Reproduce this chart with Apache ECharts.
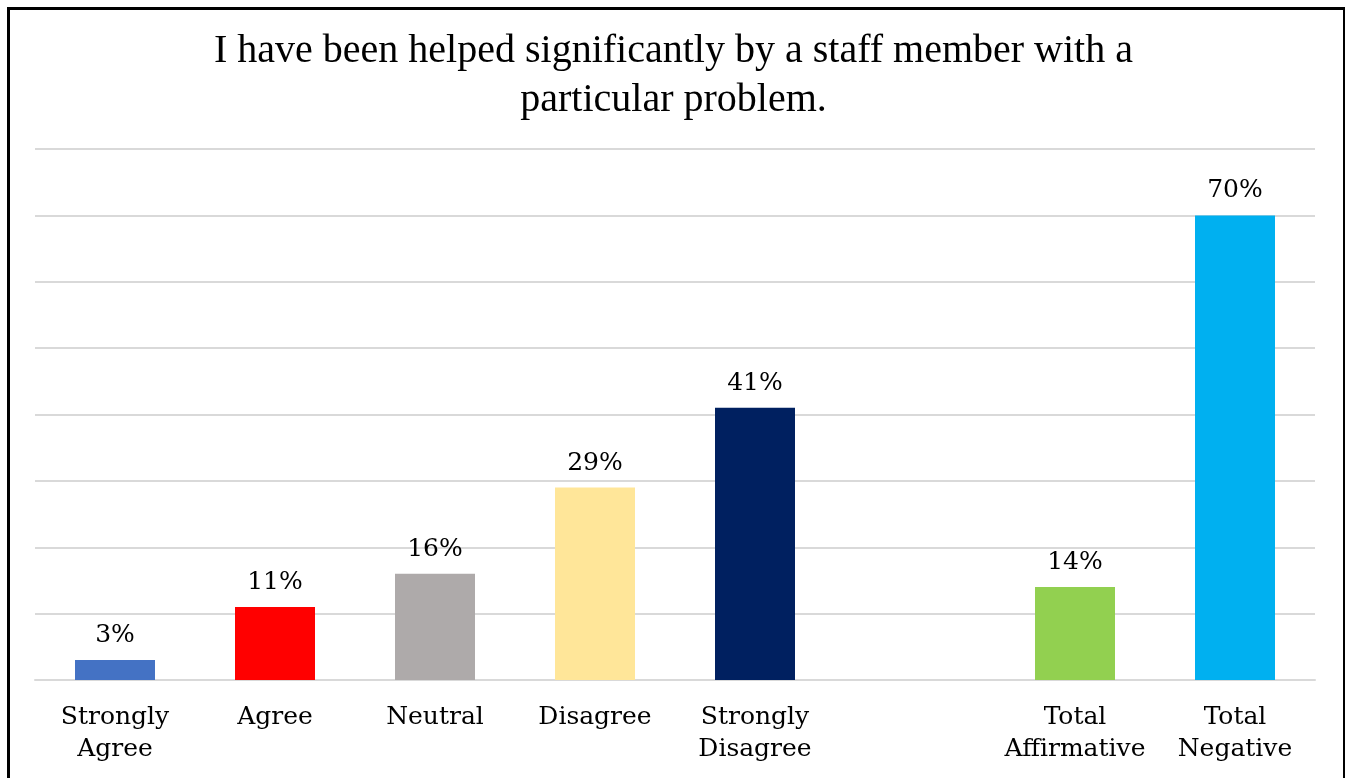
<!DOCTYPE html>
<html><head><meta charset="utf-8">
<script src="https://cdn.jsdelivr.net/npm/echarts@6/dist/echarts.min.js"></script>
<style>
html,body{margin:0;padding:0;background:#fff;}
#frame{position:absolute;left:7px;top:7px;width:1338px;height:780px;border:3px solid #000;border-right-width:2px;box-sizing:border-box;}
#chart{position:absolute;left:0;top:0;width:1347px;height:778px;}
</style></head>
<body>
<div id="frame"></div>
<div id="chart"></div>
<script>
const categories = ['Strongly\nAgree','Agree','Neutral','Disagree','Strongly\nDisagree','','Total\nAffirmative','Total\nNegative'];
const values = [3, 11, 16, 29, 41, null, 14, 70];
const colors = ['#4472C4','#FF0000','#AEAAAA','#FFE699','#002060','#ffffff','#92D050','#00B0F0'];
const titleText = 'I have been helped significantly by a staff member with a\nparticular problem.';

const chart = echarts.init(document.getElementById('chart'));
chart.setOption({
  animation:false,
  title:{text:titleText,left:'center',top:22,textStyle:{fontFamily:'Liberation Serif',fontSize:40,fontWeight:'normal',color:'#000',lineHeight:49}},
  grid:{left:35,right:32,top:149,bottom:98,containLabel:false},
  xAxis:{type:'category',data:categories,axisTick:{show:false},
    axisLine:{show:true,lineStyle:{color:'#d9d9d9',width:2}},
    axisLabel:{interval:0,fontFamily:'DejaVu Serif',fontSize:25,color:'#000',lineHeight:32,margin:21}},
  yAxis:{type:'value',min:0,max:80,interval:10,axisLabel:{show:false},axisLine:{show:false},axisTick:{show:false},
    splitLine:{lineStyle:{color:'#d9d9d9',width:2}}},
  series:[{type:'bar',barWidth:'50%',
    data:values.map((v,i)=>({value:v,itemStyle:{color:colors[i]}})),
    label:{show:true,position:'top',distance:12,formatter:p=>p.value==null?'':p.value+'%',fontFamily:'DejaVu Serif',fontSize:25,color:'#000'}}]
});
</script>
</body></html>
